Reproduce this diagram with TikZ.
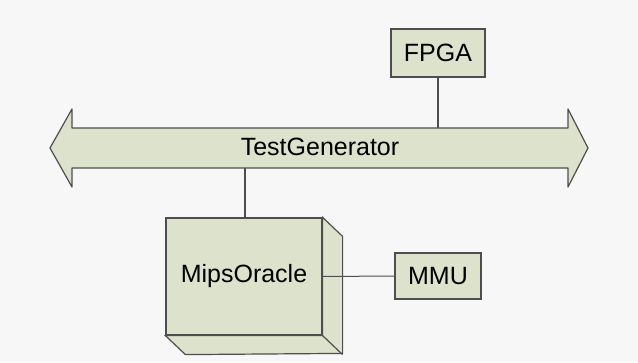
\documentclass[tikz,border=0pt]{standalone}
\usepackage{fontspec}
\setmainfont{Liberation Sans}
\usepackage{xcolor}
\usepackage{tikz}
\usetikzlibrary{calc}

\definecolor{boxfill}{RGB}{221,226,204}
\definecolor{boxline}{RGB}{78,78,78}
\definecolor{bgcol}{RGB}{247,247,247}

\begin{document}
\begin{tikzpicture}[x=1pt,y=-1pt,
  box/.style={draw=boxline,fill=boxfill,line width=1.2pt,inner sep=0pt,font=\fontsize{25}{29}\selectfont},
  wire/.style={draw=boxline,line width=1.2pt}]
\fill[bgcol](0,0)rectangle(638,362);
\useasboundingbox(0,0)rectangle(638,362);
% bus arrow
\draw[boxline,fill=boxfill,line width=1.2pt,line join=round](50,148)--(72,109)--(72,128)--(568,128)--(568,109)--(588,148)--(568,187)--(568,168)--(72,168)--(72,187)--cycle;
\node[font=\fontsize{25}{29}\selectfont](bus)at(320,147){TestGenerator};
\coordinate(bustop)at(438,128);
\coordinate(busbot)at(245,168);
% boxes
\node[box,minimum width=94,minimum height=48](fpga)at(438,53){FPGA};
\node[box,minimum width=156,minimum height=117](mips)at(244,276.5){MipsOracle};
\draw[box](mips.north east)--++(20,19)--++(0,117)--($(mips.south west)+(20,19)$)--(mips.south west)--(mips.south east)--cycle;
\draw[wire](mips.south east)--++(20,19);
\node[box,minimum width=86,minimum height=46](mmu)at(438,276){MMU};
% connectors
\draw[wire](fpga.south)--(bustop);
\draw[wire](busbot)--(busbot|-mips.north);
\draw[wire,line width=1pt](mips.east)--(mmu.west);
\end{tikzpicture}
\end{document}
